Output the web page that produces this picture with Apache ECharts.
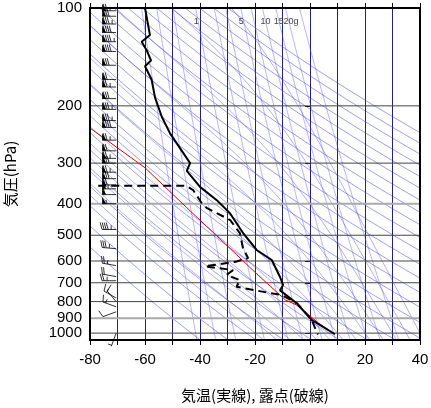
<!DOCTYPE html>
<html><head><meta charset="utf-8">
<script src="https://cdn.jsdelivr.net/npm/echarts@6/dist/echarts.min.js"></script>
<style>html,body{margin:0;background:#fff}#chart{width:431px;height:408px}</style>
</head><body><div id="chart"></div>
<script>
var myChart = echarts.init(document.getElementById('chart'));

// temperature profile [degC, hPa]
let tempT = [-60, -58.2, -61.2, -59.4, -57.8, -60, -57.6, -56.4, -53.9, -50.9, -43.6, -44.8, -40, -33.9, -29.1, -24.3, -19.4, -13.9, -10.9, -9.8, -10.9, -4.8, 0.6, 9.1]
let tempP = [100, 121, 127, 135, 145, 151, 166, 188, 216, 243, 300, 317, 355, 390, 428, 493, 555, 596, 672, 711, 739, 809, 910, 1008]
// dewpoint profile
let dewT = [-77, -45, -42.5, -39.4, -37.6, -29, -25.5, -24.4, -22.5, -27.3, -38.2, -28, -30.3, -25.5, -26.7, -15.7, -10.3, -4.8, 0.6, 2.4, 2.9]
let dewP = [352, 352, 363, 398, 412, 449, 493, 547, 588, 604, 623, 640, 662, 687, 720, 750, 763, 809, 910, 990, 1010]
// parcel path
let parcelT = [9.1, 3, -4.8, -9, -20, -32, -45, -60, -80]
let parcelP = [1008, 930, 820, 790, 650, 520, 410, 310, 234]
// wind barbs: pressure, speed (kt), direction (deg)
let windP = [102, 106, 112, 119, 127, 136, 150, 166, 175, 190, 205, 222, 233, 255, 275, 290, 300, 320, 335, 350, 360, 375, 400, 480, 550, 620, 670, 690, 780, 800, 830, 860, 1000]
let windS = [75, 80, 85, 90, 95, 90, 80, 70, 75, 80, 85, 85, 90, 75, 70, 75, 80, 75, 80, 70, 65, 60, 55, 45, 35, 25, 20, 25, 15, 10, 15, 10, 5]
let windD = [270, 270, 270, 270, 270, 270, 270, 270, 270, 270, 270, 270, 270, 270, 270, 270, 270, 270, 270, 270, 270, 270, 270, 270, 275, 280, 280, 270, 300, 320, 290, 250, 200]

let isobars = [100, 200, 300, 400, 500, 600, 700, 800, 900, 1000]
let pTicks = [100, 200, 300, 400, 500, 600, 700, 800, 900, 1000]
let thetas = [230, 240, 250, 260, 270, 280, 290, 300, 310, 320, 330, 340, 350, 360, 370, 380, 390, 400, 410, 420, 430, 440, 450, 460, 470]
let moistStart = [-20, -15, -10, -5, 0, 5, 10, 15, 20, 25, 30, 35, 40]
let mixRatios = [0.1, 0.2, 0.4, 1, 2, 3, 5, 7, 10, 15, 20, 30]
let mixLabels = {1: '1', 5: '5', 10: '10', 15: '15', 20: '20g'}

const L = p => Math.log10(p)
const pair = (ts, ps) => ts.map((t, i) => [t, L(ps[i])])

function esat(tc) { return 6.112 * Math.exp(17.67 * tc / (tc + 243.5)) }
function tFromE(e) { let a = Math.log(e / 6.112); return 243.5 * a / (17.67 - a) }

let pLevels = []
for (let p = 1050; p >= 100; p -= 10) pLevels.push(p)

let bg = []
thetas.forEach(th => {
  bg.push({ type: 'line', data: pLevels.map(p => [th * Math.pow(p / 1000, 0.286) - 273.15, L(p)]),
    showSymbol: false, silent: true, lineStyle: { color: '#3030e0', width: 0.6, opacity: 0.8 } })
})
moistStart.forEach(t0 => {
  let T = t0 + 273.15, pts = []
  let Td = T
  for (let p = 1000; p < 1050; p += 5) { Td += dTdp(Td, p) * 5 }
  pts.push([Td - 273.15, L(1050)])
  for (let p = 1000; p >= 100; p -= 5) {
    pts.push([T - 273.15, L(p)])
    T -= dTdp(T, p) * 5
  }
  bg.push({ type: 'line', data: pts, showSymbol: false, silent: true,
    lineStyle: { color: '#4040f0', width: 0.6, opacity: 0.7 } })
})
function dTdp(T, p) {
  let Rd = 287, cp = 1004, Lv = 2.5e6, eps = 0.622
  let es = esat(T - 273.15), rs = eps * es / (p - es)
  return (Rd * T + Lv * rs) / (p * (cp + Lv * Lv * rs * eps / (Rd * T * T)))
}
mixRatios.forEach(w => {
  bg.push({ type: 'line', data: pLevels.map(p => [tFromE(w * p / (622 + w)), L(p)]),
    showSymbol: false, silent: true, lineStyle: { color: '#5050f0', width: 0.6, opacity: 0.7 },
    endLabel: mixLabels[w] ? { show: true, formatter: mixLabels[w], color: '#444', fontSize: 9, offset: [-10, 14] } : undefined })
})
isobars.forEach(p => {
  bg.push({ type: 'line', data: [[-80, L(p)], [40, L(p)]], showSymbol: false, silent: true,
    lineStyle: { color: (p === 400 || p === 900) ? '#aaa' : '#444', width: (p === 400 || p === 900) ? 2 : 1 } })
})

function barb(params, api) {
  let lp = api.value(0), spd = api.value(1), dir = api.value(2)
  let base = api.coord([-70.5, lp])
  let len = 14
  let a = (dir - 270) * Math.PI / 180
  let dx = -Math.cos(a), dy = -Math.sin(a)
  let tip = [base[0] + dx * len, base[1] + dy * len]
  let kids = [{ type: 'line', shape: { x1: base[0], y1: base[1], x2: tip[0], y2: tip[1] }, style: { stroke: '#000', lineWidth: 0.8 } }]
  let nx = dy, ny = -dx
  if (ny > 0) { nx = -nx; ny = -ny }
  let s = spd, pos = 0
  while (s >= 50) {
    let p1 = [tip[0] - dx * pos, tip[1] - dy * pos]
    let p2 = [tip[0] - dx * (pos + 4), tip[1] - dy * (pos + 4)]
    kids.push({ type: 'polygon', shape: { points: [p1, [p1[0] + nx * 7, p1[1] + ny * 7], p2] }, style: { fill: '#000' } })
    pos += 3; s -= 50
  }
  while (s >= 10) {
    let p1 = [tip[0] - dx * pos, tip[1] - dy * pos]
    kids.push({ type: 'line', shape: { x1: p1[0], y1: p1[1], x2: p1[0] + nx * 7 + dx * 2, y2: p1[1] + ny * 7 + dy * 2 }, style: { stroke: '#000', lineWidth: 0.8 } })
    pos += 2; s -= 10
  }
  if (s >= 5) {
    let p1 = [tip[0] - dx * (pos + 1), tip[1] - dy * (pos + 1)]
    kids.push({ type: 'line', shape: { x1: p1[0], y1: p1[1], x2: p1[0] + nx * 4, y2: p1[1] + ny * 4 }, style: { stroke: '#000', lineWidth: 0.8 } })
  }
  return { type: 'group', children: kids }
}

let option = {
  animation: false,
  grid: { left: 90, right: 11, top: 8, bottom: 68, containLabel: false, outerBoundsMode: 'none' },
  xAxis: [{
    type: 'value', min: -80, max: 40, interval: 20,
    axisLine: { show: false }, axisTick: { show: true, length: 5, lineStyle: { color: '#000' } },
    minorTick: { show: true, splitNumber: 2, length: 5, lineStyle: { color: '#000' } },
    axisLabel: { color: '#000', fontSize: 15, fontFamily: 'Liberation Sans', margin: 12 },
    splitLine: { show: false },
    name: '気温(実線), 露点(破線)', nameLocation: 'middle', nameGap: 48,
    nameTextStyle: { color: '#000', fontSize: 15, fontFamily: 'Noto Sans CJK JP' }
  }, {
    type: 'value', min: -80, max: 40, interval: 10, position: 'top',
    axisLine: { show: false }, axisLabel: { show: false },
    axisTick: { show: true, length: 5, lineStyle: { color: '#000' } },
    splitLine: { show: true, lineStyle: { color: '#22227a', width: 1 } }
  }],
  yAxis: {
    type: 'value', inverse: true, min: 2, max: L(1050),
    axisLine: { show: false },
    axisTick: { show: true, customValues: pTicks.map(L), length: 5, lineStyle: { color: '#000' } },
    axisLabel: { show: true, customValues: pTicks.map(L), formatter: v => Math.round(Math.pow(10, v)),
      color: '#000', fontSize: 15, fontFamily: 'Liberation Sans', margin: 8 },
    splitLine: { show: false },
    name: '気圧(hPa)', nameLocation: 'middle', nameGap: 72, nameRotate: 90,
    nameTextStyle: { color: '#000', fontSize: 15, fontFamily: 'Noto Sans CJK JP' }
  },
  graphic: [{ type: 'rect', shape: { x: 90, y: 8, width: 330, height: 332 }, style: { fill: 'none', stroke: '#000', lineWidth: 2 }, z: 100 }],
  series: bg.concat([
    { type: 'line', data: pair(parcelT, parcelP), showSymbol: false, lineStyle: { color: '#e00000', width: 1 }, z: 5 },
    { type: 'line', data: pair(tempT, tempP), showSymbol: false, lineStyle: { color: '#000', width: 2 }, z: 6 },
    { type: 'line', data: pair(dewT, dewP), showSymbol: false, lineStyle: { color: '#000', width: 2, type: [8, 5] }, z: 6 },
    { type: 'custom', renderItem: barb, data: windP.map((p, i) => [L(p), windS[i], windD[i]]),
      encode: { x: -1, y: 0 }, clip: false, z: 7 }
  ])
};
myChart.setOption(option);
</script></body></html>
